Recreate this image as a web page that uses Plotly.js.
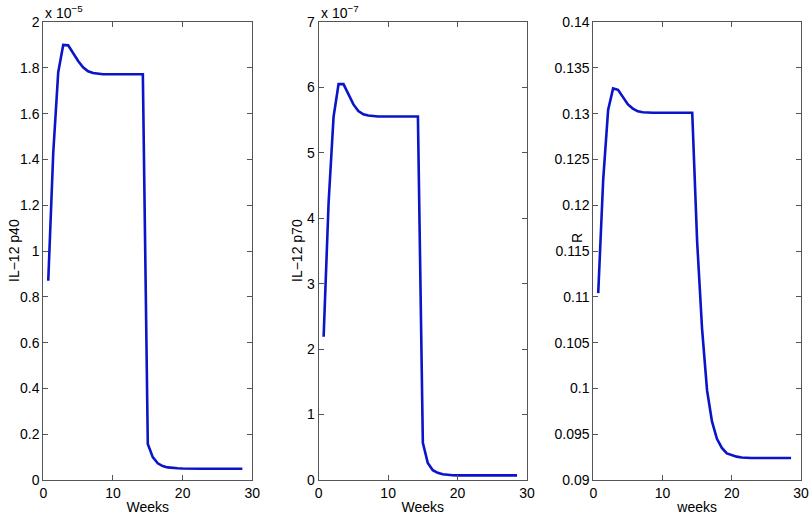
<!DOCTYPE html>
<html>
<head>
<meta charset="utf-8">
<script src="https://cdn.plot.ly/plotly-3.0.1.min.js"></script>
<style>html,body{margin:0;padding:0;background:#fff}#chart{width:810px;height:515px}</style>
</head>
<body>
<div id="chart"></div>
<script>
// time points (weeks)
const weeks = [0.71,1.43,2.14,2.86,3.57,4.29,5.00,5.71,6.43,7.14,7.86,8.57,9.29,10.00,10.71,11.43,12.14,12.86,13.57,14.29,
               15.00,15.71,16.43,17.14,17.86,18.57,19.29,20.00,20.71,21.43,22.14,22.86,23.57,24.29,25.00,25.71,26.43,27.14,27.86,28.57];
// IL-12 p40, in units of 1e-5
const p40_e5 = [0.87,1.43,1.78,1.90,1.898,1.863,1.83,1.802,1.785,1.777,1.774,1.772,1.772,1.772,1.772,1.772,1.772,1.772,1.772,1.772,
                0.157,0.10,0.073,0.061,0.055,0.052,0.051,0.050,0.049,0.049,0.049,0.049,0.049,0.049,0.049,0.049,0.049,0.049,0.049,0.049];
// IL-12 p70, in units of 1e-7
const p70_e7 = [2.19,4.25,5.55,6.05,6.05,5.89,5.74,5.64,5.59,5.57,5.56,5.555,5.555,5.555,5.555,5.555,5.555,5.555,5.555,5.555,
                0.57,0.26,0.15,0.11,0.088,0.078,0.073,0.071,0.07,0.07,0.07,0.07,0.07,0.07,0.07,0.07,0.07,0.07,0.07,0.07];
// R
const rVals = [0.1104,0.1228,0.1304,0.13275,0.1326,0.1318,0.1310,0.13055,0.13025,0.13015,0.1301,0.1301,0.1301,0.1301,0.1301,0.1301,0.1301,0.1301,0.1301,0.1301,
               0.116,0.1065,0.0998,0.0964,0.0945,0.0935,0.0929,0.0927,0.09255,0.09245,0.0924,0.0924,0.0924,0.0924,0.0924,0.0924,0.0924,0.0924,0.0924,0.0924];

const xTitles = ["Weeks","Weeks","weeks"];
const yTitles = ["IL−12 p40","IL−12 p70","R"];
const exponents = ["−5","−7"];

const W = 810, H = 515;
const FONT = "Liberation Sans, Arial, Helvetica, sans-serif";
const lineColor = "#0a14c8";
const axColor = "#555555";

const xdom = [[43.3/W, 252.3/W],[318.7/W, 527/W],[593.3/W, 801/W]];
const ydom = [1-480/H, 1-22/H];
const yTitleX = [14/W, 297/W, 577/W];
const yTitleY = [1-251/H, 1-251/H, 1-238/H];

function mkX(i){
  return {
    domain: xdom[i], range:[0,30], tickvals:[0,10,20,30],
    showline:true, mirror:'ticks', linecolor:axColor, linewidth:1,
    ticks:'inside', ticklen:5, tickcolor:axColor, showgrid:false, zeroline:false,
    tickfont:{family:FONT,size:14,color:'#000'},
    title:{text:xTitles[i], font:{family:FONT,size:14,color:'#000'}, standoff:2},
    anchor: i===0?'y':'y'+(i+1), fixedrange:true
  };
}
function mkY(i, range, dtick){
  return {
    domain: ydom, range: range, dtick: dtick, tick0: range[0],
    showline:true, mirror:'ticks', linecolor:axColor, linewidth:1,
    ticks:'inside', ticklen:5, tickcolor:axColor, showgrid:false, zeroline:false,
    tickfont:{family:FONT,size:14,color:'#000'},
    anchor: i===0?'x':'x'+(i+1), fixedrange:true
  };
}

const traces = [
  {x:weeks, y:p40_e5, xaxis:'x', yaxis:'y'},
  {x:weeks, y:p70_e7, xaxis:'x2', yaxis:'y2'},
  {x:weeks, y:rVals, xaxis:'x3', yaxis:'y3'}
].map(t => Object.assign(t, {type:'scatter', mode:'lines', line:{color:lineColor, width:2.6}, showlegend:false, hoverinfo:'skip'}));

const annotations = [];
[0,1].forEach(i => {
  annotations.push({
    xref:'paper', yref:'paper', x: xdom[i][0], y: ydom[1], xanchor:'left', yanchor:'bottom',
    yshift:-1, showarrow:false,
    text:'x 10<sup>'+exponents[i]+'</sup>', font:{family:FONT,size:14,color:'#000'}
  });
});
[0,1,2].forEach(i => {
  annotations.push({
    xref:'paper', yref:'paper', x: yTitleX[i], y: yTitleY[i], xanchor:'center', yanchor:'middle',
    textangle:-90, showarrow:false, text:yTitles[i], font:{family:FONT,size:14,color:'#000'}
  });
});

const layout = {
  width:W, height:H, margin:{l:0,r:0,t:0,b:0},
  paper_bgcolor:'#fff', plot_bgcolor:'#fff',
  xaxis: mkX(0), xaxis2: mkX(1), xaxis3: mkX(2),
  yaxis: mkY(0,[0,2],0.2), yaxis2: mkY(1,[0,7],1), yaxis3: mkY(2,[0.09,0.14],0.005),
  annotations: annotations,
  font:{family:FONT,size:14,color:'#000'}
};

Plotly.newPlot('chart', traces, layout, {displayModeBar:false, staticPlot:true});
</script>
</body>
</html>
